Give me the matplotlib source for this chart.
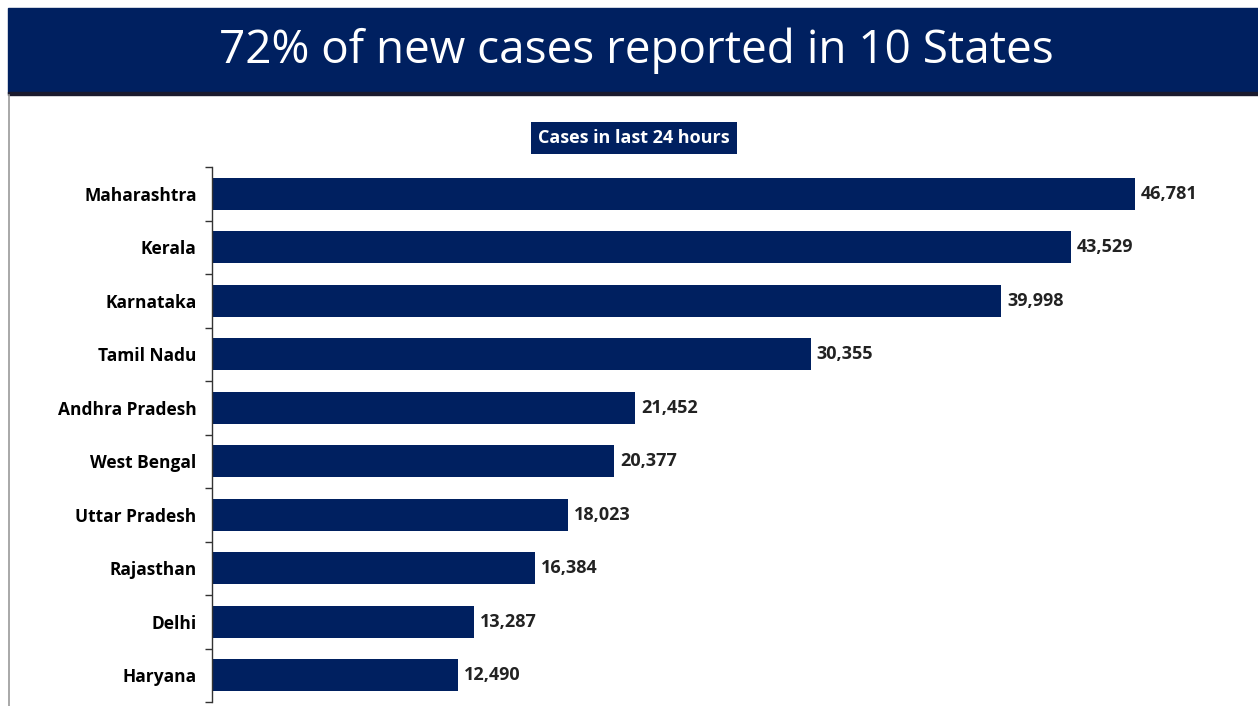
import matplotlib
matplotlib.use("Agg")
import matplotlib.pyplot as plt
from matplotlib.patches import Rectangle
import numpy as np

states = ["Maharashtra", "Kerala", "Karnataka", "Tamil Nadu", "Andhra Pradesh",
          "West Bengal", "Uttar Pradesh", "Rajasthan", "Delhi", "Haryana"]
cases = [46781, 43529, 39998, 30355, 21452, 20377, 18023, 16384, 13287, 12490]
title = "72% of new cases reported in 10 States"
subtitle = "Cases in last 24 hours"

NAVY = "#002060"
W, H = 1258, 706
fig = plt.figure(figsize=(W / 100, H / 100), dpi=100)
fig.patch.set_facecolor("white")

def fx(px):
    return px / W

def fy(py):
    return 1 - py / H

# header band
fig.patches.append(Rectangle((fx(8), fy(93)), fx(W) - fx(8), fy(8) - fy(93),
                             transform=fig.transFigure, color=NAVY, zorder=0))
fig.patches.append(Rectangle((fx(8), fy(95)), fx(W) - fx(8), fy(92) - fy(95),
                             transform=fig.transFigure, color="#1a1a2e", zorder=0))
# left border
fig.add_artist(plt.Line2D([fx(8.5), fx(8.5)], [fy(95), 0], transform=fig.transFigure,
                          color="#9a9a9a", lw=1.2))
fig.text(fx(636), fy(51), title, color="white", fontsize=33, ha="center", va="center",
         family="Open Sans")

# subtitle box
fig.text(fx(634), fy(138), subtitle, color="white", fontsize=13, fontweight="bold",
         ha="center", va="center", family="Open Sans",
         bbox=dict(boxstyle="square,pad=0.4", fc=NAVY, ec="none"))

# axes
ax_left, ax_right = 212, 1258
ax_top, ax_bot = 167, 702
ax = fig.add_axes([fx(ax_left), fy(ax_bot), fx(ax_right) - fx(ax_left), fy(ax_top) - fy(ax_bot)])
n = len(states)
y = np.arange(n)
ax.barh(y, cases, height=0.6, color=NAVY)
ax.set_ylim(n - 0.5, -0.5)
scale = (1135 - 212) / 46781
ax.set_xlim(0, (ax_right - ax_left) / scale)
for s in ["top", "right", "bottom"]:
    ax.spines[s].set_visible(False)
ax.spines["left"].set_color("#333333")
ax.spines["left"].set_linewidth(1.0)
ax.set_xticks([])
ax.set_yticks(np.arange(n + 1) - 0.5)
ax.set_yticklabels([])
ax.tick_params(axis="y", which="major", length=5, color="#333333", width=1)
ax.set_yticks(y, minor=True)
ax.set_yticklabels(states, minor=True, fontsize=12.5, fontweight="bold", family="Open Sans")
ax.tick_params(axis="y", which="minor", length=0, pad=11)
for yi, v in zip(y, cases):
    ax.text(v + 300, yi, f"{v:,}", va="center", ha="left", fontsize=13,
            fontweight="bold", family="Open Sans", color="#222222")
ax.set_facecolor("none")

fig.savefig("out.png", dpi=100)
